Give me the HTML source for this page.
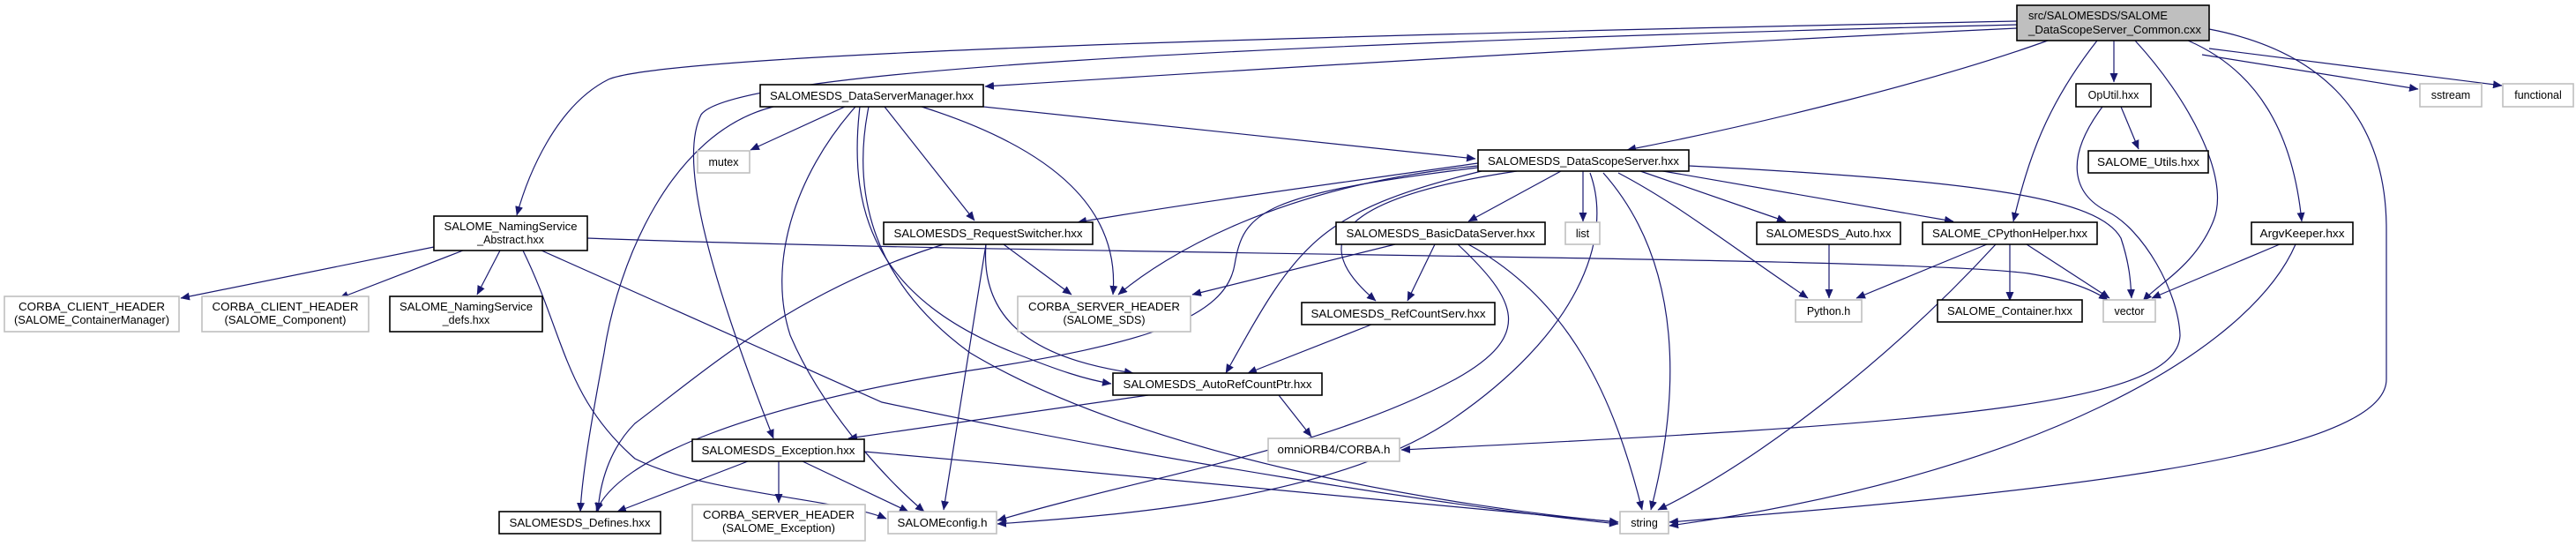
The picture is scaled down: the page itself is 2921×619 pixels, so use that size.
<!DOCTYPE html>
<html><head><meta charset="utf-8"><style>
html,body{margin:0;padding:0;background:#fff}
svg{display:block}
text{font-family:"Liberation Sans",Arial,sans-serif;font-size:12.5px;fill:#000}
.n{fill:#fff;stroke:#000;stroke-width:1.6}
.g{fill:#fff;stroke:#bfbfbf;stroke-width:1.6}
.e{fill:none;stroke:#191970;stroke-width:1.2}
</style></head><body>
<svg width="2921" height="619" viewBox="0 0 2921 619" xmlns="http://www.w3.org/2000/svg">
<defs><marker id="a" markerWidth="11" markerHeight="9" refX="10" refY="4.5" orient="auto" markerUnits="userSpaceOnUse"><path d="M0,0 L10.5,4.5 L0,9 z" fill="#191970"/></marker></defs>
<g class="e" marker-end="url(#a)">
<path d="M2287,24 C1500,40 760,60 690,90 C630,120 598,200 586,244"/>
<path d="M2287,28 C1400,50 830,80 795,130 C770,180 800,300 877,497"/>
<path d="M2287,32 C1800,55 1400,80 1117,98"/>
<path d="M2322,46 C2200,90 2000,140 1845,170"/>
<path d="M2378,46 C2320,120 2300,180 2283,251"/>
<path d="M2397,46 L2397,93"/>
<path d="M2421,46 C2480,110 2530,200 2510,250 C2490,300 2450,320 2430,341"/>
<path d="M2481,46 C2560,80 2600,150 2610,251"/>
<path d="M2497,62 L2742,101"/>
<path d="M2505,55 L2837,97"/>
<path d="M2505,33 C2620,55 2706,120 2706,260 L2706,430 C2706,520 2300,560 1893,592"/>
<path d="M2405,121 L2425,169"/>
<path d="M2384,121 C2340,180 2350,220 2390,240 C2430,260 2470,330 2472,380 C2470,460 2200,480 1589,510"/>
<path d="M958,121 L851,170"/>
<path d="M877,121 C760,150 700,300 685,400 C670,480 660,540 658,580"/>
<path d="M970,121 C900,200 870,300 896,380 C930,460 1000,540 1048,580"/>
<path d="M985,121 C965,220 990,320 1100,400 C1300,520 1650,575 1835,592"/>
<path d="M1003,121 L1105,250"/>
<path d="M1045,121 C1200,170 1270,240 1262,334"/>
<path d="M1115,121 L1673,180"/>
<path d="M975,121 C960,250 1000,340 1150,400 C1200,420 1230,430 1260,435"/>
<path d="M1676,185 C1500,210 1350,230 1222,252"/>
<path d="M1676,188 C1450,210 1320,290 1268,334"/>
<path d="M1676,190 C1430,220 1410,240 1400,300 C1390,360 1300,390 1100,420 C850,460 700,520 676,580"/>
<path d="M1680,194 C1490,240 1470,280 1390,423"/>
<path d="M1720,194 C1480,230 1500,290 1560,341"/>
<path d="M1770,194 L1665,251"/>
<path d="M1795,194 L1795,251"/>
<path d="M1803,196 C1830,270 1790,380 1640,480 C1500,570 1250,585 1131,594"/>
<path d="M1818,196 C1910,300 1905,450 1872,578"/>
<path d="M1835,196 C1900,230 1950,270 2050,338"/>
<path d="M1860,194 L2025,251"/>
<path d="M1880,193 L2215,251"/>
<path d="M1915,188 C2250,205 2380,225 2405,270 C2415,300 2416,320 2417,338"/>
<path d="M1138,277 L1215,334"/>
<path d="M1118,277 C1110,380 1200,410 1285,423"/>
<path d="M1118,277 L1070,578"/>
<path d="M1070,277 C900,330 800,420 720,480 C690,510 680,550 678,580"/>
<path d="M492,280 L205,338"/>
<path d="M525,284 L385,338"/>
<path d="M567,284 L541,334"/>
<path d="M666,270 C1200,290 2150,290 2300,310 C2350,318 2375,330 2390,340"/>
<path d="M614,284 L1000,456 C1300,520 1650,575 1835,594"/>
<path d="M593,284 C640,380 640,450 720,520 C800,560 950,565 1005,588"/>
<path d="M848,523 L700,580"/>
<path d="M883,523 L883,570"/>
<path d="M910,523 L1030,580"/>
<path d="M980,512 C1300,540 1650,575 1835,592"/>
<path d="M1302,448 L962,497"/>
<path d="M1450,448 L1487,495"/>
<path d="M1582,277 L1352,334"/>
<path d="M1627,277 L1596,341"/>
<path d="M1653,277 C1720,340 1740,380 1650,430 C1500,510 1300,540 1131,590"/>
<path d="M1665,277 C1780,340 1830,450 1862,578"/>
<path d="M1555,368 L1415,423"/>
<path d="M2074,277 L2074,338"/>
<path d="M2253,277 L2105,338"/>
<path d="M2279,277 L2279,341"/>
<path d="M2298,277 L2392,338"/>
<path d="M2263,277 C2150,400 2000,520 1880,578"/>
<path d="M2585,277 L2440,338"/>
<path d="M2603,277 C2550,400 2300,540 1893,596"/>
</g>
<rect x="2287" y="6" width="218" height="40" fill="#bfbfbf" stroke="#000" stroke-width="1.6"/>
<text x="2300" y="22" textLength="158" lengthAdjust="spacingAndGlyphs">src/SALOMESDS/SALOME</text>
<text x="2300" y="38" textLength="196" lengthAdjust="spacingAndGlyphs">_DataScopeServer_Common.cxx</text>

<rect class="n" x="862" y="96" width="253" height="25"/><text x="988.5" y="113" text-anchor="middle" textLength="231" lengthAdjust="spacingAndGlyphs">SALOMESDS_DataServerManager.hxx</text>
<rect class="n" x="2354" y="95" width="85" height="26"/><text x="2396.5" y="112" text-anchor="middle">OpUtil.hxx</text>
<rect class="g" x="2744" y="95" width="70" height="26"/><text x="2779" y="112" text-anchor="middle">sstream</text>
<rect class="g" x="2838" y="95" width="80" height="26"/><text x="2878" y="112" text-anchor="middle">functional</text>

<rect class="g" x="791" y="171" width="59" height="25"/><text x="820.5" y="188" text-anchor="middle">mutex</text>
<rect class="n" x="1676" y="170" width="239" height="24"/><text x="1795.5" y="187" text-anchor="middle" textLength="217" lengthAdjust="spacingAndGlyphs">SALOMESDS_DataScopeServer.hxx</text>
<rect class="n" x="2368" y="171" width="136" height="25"/><text x="2436" y="188" text-anchor="middle" textLength="116" lengthAdjust="spacingAndGlyphs">SALOME_Utils.hxx</text>

<rect class="n" x="492" y="245" width="174" height="39"/>
<text x="579" y="261" text-anchor="middle" textLength="151" lengthAdjust="spacingAndGlyphs">SALOME_NamingService</text>
<text x="579" y="276" text-anchor="middle">_Abstract.hxx</text>
<rect class="n" x="1002" y="252" width="237" height="25"/><text x="1120.5" y="269" text-anchor="middle" textLength="214" lengthAdjust="spacingAndGlyphs">SALOMESDS_RequestSwitcher.hxx</text>
<rect class="n" x="1515" y="252" width="237" height="25"/><text x="1633.5" y="269" text-anchor="middle" textLength="214" lengthAdjust="spacingAndGlyphs">SALOMESDS_BasicDataServer.hxx</text>
<rect class="g" x="1775" y="252" width="39" height="25"/><text x="1794.5" y="269" text-anchor="middle">list</text>
<rect class="n" x="1992" y="252" width="163" height="25"/><text x="2073.5" y="269" text-anchor="middle" textLength="142" lengthAdjust="spacingAndGlyphs">SALOMESDS_Auto.hxx</text>
<rect class="n" x="2180" y="252" width="198" height="25"/><text x="2279" y="269" text-anchor="middle" textLength="176" lengthAdjust="spacingAndGlyphs">SALOME_CPythonHelper.hxx</text>
<rect class="n" x="2553" y="252" width="115" height="25"/><text x="2610.5" y="269" text-anchor="middle" textLength="96" lengthAdjust="spacingAndGlyphs">ArgvKeeper.hxx</text>

<rect class="g" x="5" y="336" width="198" height="40"/>
<text x="104" y="352" text-anchor="middle" textLength="166" lengthAdjust="spacingAndGlyphs">CORBA_CLIENT_HEADER</text>
<text x="104" y="367" text-anchor="middle" textLength="176" lengthAdjust="spacingAndGlyphs">(SALOME_ContainerManager)</text>
<rect class="g" x="229" y="336" width="189" height="40"/>
<text x="323.5" y="352" text-anchor="middle" textLength="166" lengthAdjust="spacingAndGlyphs">CORBA_CLIENT_HEADER</text>
<text x="323.5" y="367" text-anchor="middle" textLength="138" lengthAdjust="spacingAndGlyphs">(SALOME_Component)</text>
<rect class="n" x="442" y="336" width="173" height="40"/>
<text x="528.5" y="352" text-anchor="middle" textLength="151" lengthAdjust="spacingAndGlyphs">SALOME_NamingService</text>
<text x="528.5" y="367" text-anchor="middle">_defs.hxx</text>
<rect class="g" x="1154" y="336" width="196" height="40"/>
<text x="1252" y="352" text-anchor="middle" textLength="172" lengthAdjust="spacingAndGlyphs">CORBA_SERVER_HEADER</text>
<text x="1252" y="367" text-anchor="middle">(SALOME_SDS)</text>
<rect class="n" x="1476" y="343" width="219" height="25"/><text x="1585.5" y="360" text-anchor="middle" textLength="198" lengthAdjust="spacingAndGlyphs">SALOMESDS_RefCountServ.hxx</text>
<rect class="g" x="2036" y="340" width="75" height="25"/><text x="2073.5" y="357" text-anchor="middle">Python.h</text>
<rect class="n" x="2197" y="340" width="164" height="25"/><text x="2279" y="357" text-anchor="middle" textLength="142" lengthAdjust="spacingAndGlyphs">SALOME_Container.hxx</text>
<rect class="g" x="2385" y="340" width="59" height="25"/><text x="2414.5" y="357" text-anchor="middle">vector</text>

<rect class="n" x="1262" y="423" width="237" height="25"/><text x="1380.5" y="440" text-anchor="middle" textLength="214" lengthAdjust="spacingAndGlyphs">SALOMESDS_AutoRefCountPtr.hxx</text>

<rect class="n" x="785" y="498" width="195" height="25"/><text x="882.5" y="515" text-anchor="middle" textLength="174" lengthAdjust="spacingAndGlyphs">SALOMESDS_Exception.hxx</text>
<rect class="g" x="1438" y="497" width="149" height="26"/><text x="1512.5" y="514" text-anchor="middle" textLength="128" lengthAdjust="spacingAndGlyphs">omniORB4/CORBA.h</text>

<rect class="n" x="566" y="580" width="183" height="25"/><text x="657.5" y="597" text-anchor="middle" textLength="160" lengthAdjust="spacingAndGlyphs">SALOMESDS_Defines.hxx</text>
<rect class="g" x="785" y="572" width="196" height="41"/>
<text x="883" y="588" text-anchor="middle" textLength="172" lengthAdjust="spacingAndGlyphs">CORBA_SERVER_HEADER</text>
<text x="883" y="603" text-anchor="middle" textLength="128" lengthAdjust="spacingAndGlyphs">(SALOME_Exception)</text>
<rect class="g" x="1007" y="580" width="123" height="25"/><text x="1068.5" y="597" text-anchor="middle" textLength="102" lengthAdjust="spacingAndGlyphs">SALOMEconfig.h</text>
<rect class="g" x="1837" y="580" width="55" height="25"/><text x="1864.5" y="597" text-anchor="middle">string</text>
</svg>
</body></html>
